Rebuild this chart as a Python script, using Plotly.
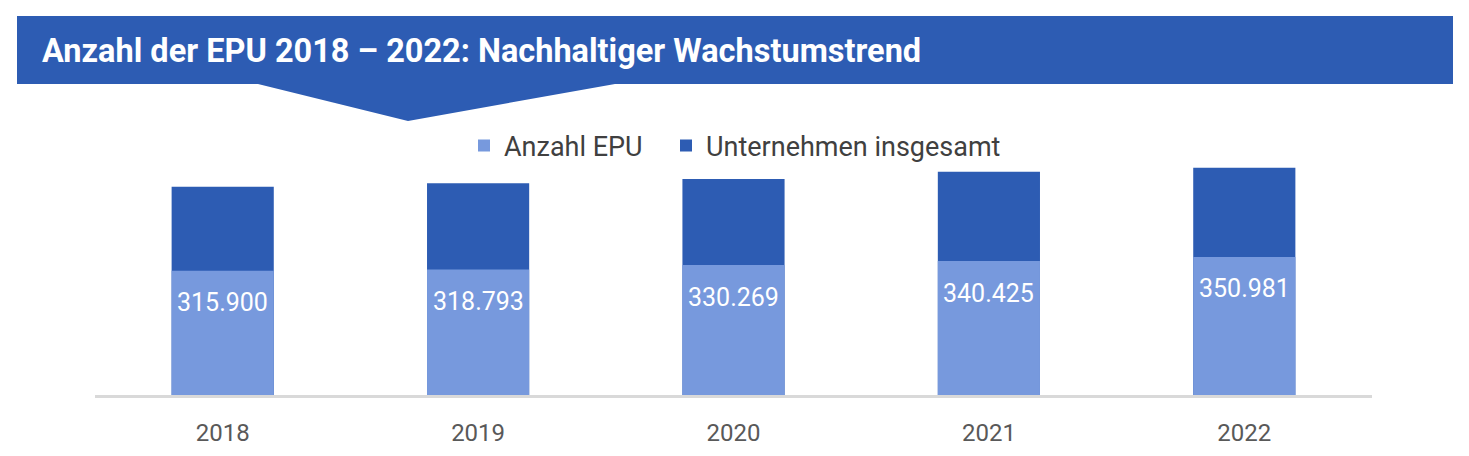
import plotly.graph_objects as go

years = ["2018", "2019", "2020", "2021", "2022"]
epu = [315900, 318793, 330269, 340425, 350981]
total = [529500, 538100, 549100, 567600, 577800]
epu_labels = ["315.900", "318.793", "330.269", "340.425", "350.981"]

title_text = "Anzahl der EPU 2018 – 2022: Nachhaltiger Wachstumstrend"

LIGHT = "#7799dd"
DARK = "#2d5cb3"

W, H = 1469, 456
L, R, T, B = 95, 97, 159, 61
PW, PH = W - L - R, H - T - B

def px(x):
    return (x - L) / PW

def py(y):
    return (H - B - y) / PH

fig = go.Figure()
fig.add_trace(go.Bar(x=years, y=total, name="Unternehmen insgesamt",
                     marker=dict(color=DARK, line=dict(width=0)),
                     legend="legend2", hoverinfo="skip"))
fig.add_trace(go.Bar(x=years, y=epu, name="Anzahl EPU",
                     marker=dict(color=LIGHT, line=dict(width=0)),
                     legend="legend", hoverinfo="skip"))

annotations = []
for i, (v, lab) in enumerate(zip(epu, epu_labels)):
    annotations.append(dict(x=i, y=v, xref="x", yref="y", text=lab,
                            showarrow=False, yanchor="middle", yshift=-32,
                            font=dict(family="Roboto", size=25, color="white")))

annotations.append(dict(x=px(40), y=py(51), xref="paper", yref="paper",
                        text="<b>" + title_text + "</b>", showarrow=False,
                        xanchor="left", yanchor="middle",
                        font=dict(family="Roboto", size=32.5, color="white")))

pts = [(17, 16), (1453, 16), (1453, 84), (615, 84), (408, 121), (258, 84), (17, 84)]
path = "M " + " L ".join(f"{px(a):.5f},{py(b):.5f}" for a, b in pts) + " Z"

leg_common = dict(orientation="h", yanchor="middle", y=py(146), xanchor="left",
                  font=dict(family="Roboto", size=27, color="#404040"),
                  itemwidth=30, bgcolor="rgba(0,0,0,0)", borderwidth=0)

fig.update_layout(
    width=W, height=H,
    margin=dict(l=L, r=R, t=T, b=B, pad=0, autoexpand=False),
    paper_bgcolor="white", plot_bgcolor="white",
    barmode="overlay", bargap=0.6,
    font=dict(family="Roboto", color="#595959"),
    showlegend=True,
    legend=dict(x=px(464), **leg_common),
    legend2=dict(x=px(666), **leg_common),
    xaxis=dict(type="category", range=[-0.5, 4.5], automargin=False,
               showgrid=False, showline=True, linecolor="#d9d9d9",
               linewidth=2.5, ticks="",
               tickfont=dict(family="Roboto", size=24, color="#595959"),
               ticklabelstandoff=14),
    yaxis=dict(range=[0, 600000], visible=False, showgrid=False, automargin=False),
    shapes=[dict(type="path", path=path, xref="paper", yref="paper",
                 fillcolor=DARK, line=dict(width=0), layer="above")],
    annotations=annotations,
)

fig.write_html("out.html", config={"displayModeBar": False},
               post_script="document.body.style.margin='0';")
